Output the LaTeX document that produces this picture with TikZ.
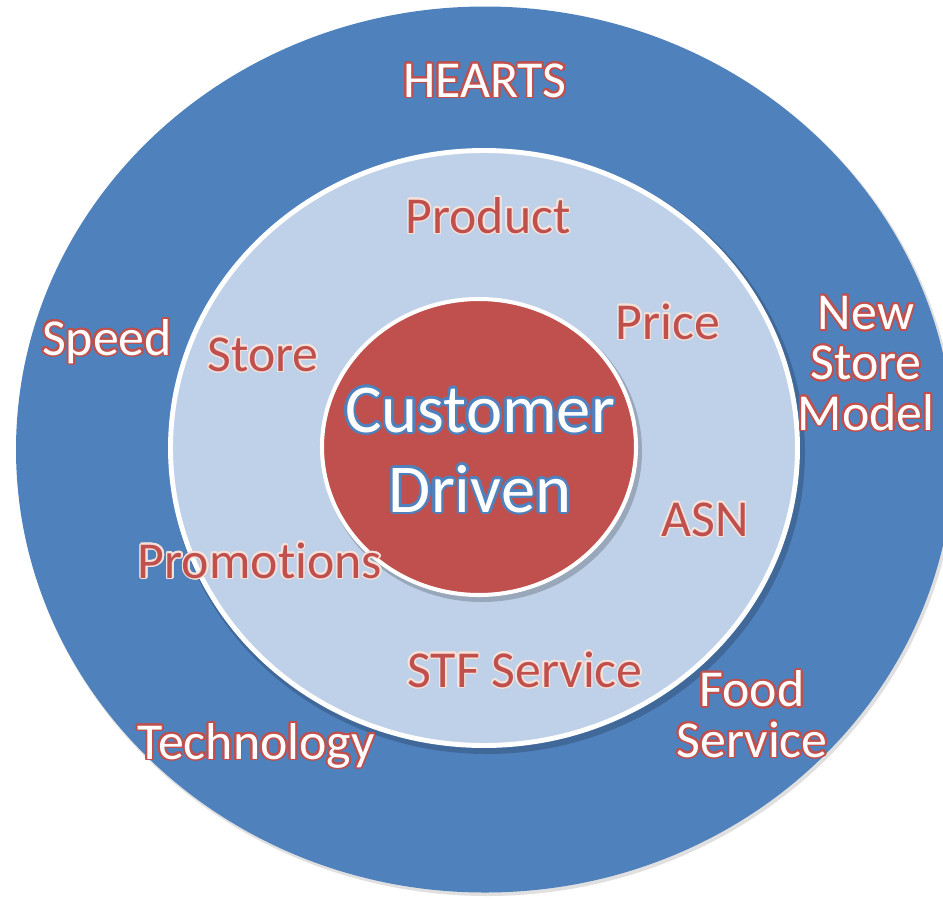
\documentclass[tikz,border=0pt]{standalone}
\usepackage{fontspec}
\setmainfont[Ligatures=NoCommon]{Carlito}
\usepackage[copies]{contour}
\contournumber{20}
\usetikzlibrary{positioning}

\definecolor{ringblue}{HTML}{4F81BD}
\definecolor{paleblue}{HTML}{BFD1E8}
\definecolor{hotred}{HTML}{C0504D}
\definecolor{cream}{HTML}{F6E2DA}

% outlined words for the three bands
\newcommand{\outerword}[1]{\contourlength{1.1pt}\contour{hotred}{\color{white}#1}}
\newcommand{\ringword}[1]{\contourlength{0.8pt}\contour{cream}{\color{hotred}#1}}
\newcommand{\coreword}[1]{\contourlength{1.4pt}\contour{ringblue}{\color{white}#1}}

\begin{document}
\begin{tikzpicture}[line join=round,x=0.02cm,y=-0.02cm]
\tikzstyle{every node}=[inner sep=0pt,align=center,anchor=base]
\tikzstyle{band}=[font=\fontsize{29.5}{28.6}\selectfont]
\tikzstyle{core}=[font=\fontsize{39}{45.5}\selectfont]
\useasboundingbox (0,0) rectangle (943,900);
\clip (0,0) rectangle (943,900);
% outer band
\fill[black,opacity=0.12] (487,452) ellipse (470 and 444);
\fill[ringblue] (485,449.5) ellipse (469 and 443);
% middle band
\fill[black,opacity=0.18] (487,452) ellipse (318 and 302);
\draw[white,line width=2.8pt,fill=paleblue] (484,448) ellipse (313.5 and 297.5);
% core
\fill[black,opacity=0.2] (482,451) ellipse (160 and 151);
\draw[white,line width=2.3pt,fill=hotred] (479,447) ellipse (157 and 148);

\node[band] (hearts) at (485,97) {\outerword{HEARTS}};
\node[band] (speed) at (107,355) {\outerword{Speed}};
\node[band] (newstore) at (866,430) {\outerword{New}\\\outerword{Store}\\\outerword{Model}};
\node[band] (food) at (752,757) {\outerword{Food}\\\outerword{Service}};
\node[band] (tech) at (256,759) {\outerword{Technology}};

\node[band] (product) at (488,233) {\ringword{Product}};
\node[band] (store) at (263,371) {\ringword{Store}};
\node[band] (price) at (668,339) {\ringword{Price}};
\node[band] (asn) at (705,536) {\ringword{ASN}};
\node[band] (promo) at (260,578) {\ringword{Promotions}};
\node[band] (stf) at (525,687) {\ringword{STF Service}};

\node[core] (cust) at (480,512) {\coreword{Customer}\\\coreword{Driven}};
\end{tikzpicture}
\end{document}
